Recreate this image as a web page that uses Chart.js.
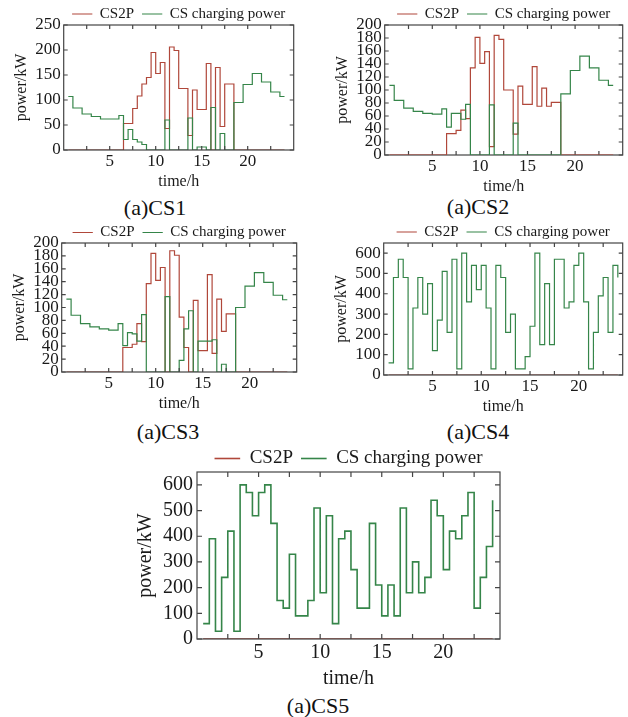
<!DOCTYPE html>
<html><head><meta charset="utf-8">
<script src="https://cdn.jsdelivr.net/npm/chart.js@4.4.0/dist/chart.umd.min.js"></script>
<style>
html,body{margin:0;padding:0;background:#fff;}
body{width:628px;height:717px;position:relative;overflow:hidden;font-family:"Liberation Serif","Times New Roman",serif;}
canvas{position:absolute;}
.cap{position:absolute;font-size:22px;color:#111;white-space:nowrap;transform:translate(-50%,-50%);line-height:1;}
</style></head><body>
<div class="cap" style="left:155px;top:208px">(a)CS1</div>
<div class="cap" style="left:478px;top:207px">(a)CS2</div>
<div class="cap" style="left:168px;top:432px">(a)CS3</div>
<div class="cap" style="left:478px;top:432px">(a)CS4</div>
<div class="cap" style="left:318px;top:706px">(a)CS5</div>
<script>
// ---------- data ----------
const hours = [0.5,1,1.5,2,2.5,3,3.5,4,4.5,5,5.5,6,6.5,7,7.5,8,8.5,9,9.5,10,10.5,11,11.5,12,12.5,13,13.5,14,14.5,15,15.5,16,16.5,17,17.5,18,18.5,19,19.5,20,20.5,21,21.5,22,22.5,23,23.5,24];
const seriesNames = ['CS2P','CS charging power'];
const xTickLabels = [5,10,15,20];
const xTickMarks = [2.5,5,7.5,10,12.5,15,17.5,20,22.5];
const yTicksCS1 = [0,50,100,150,200,250];
const yTicksCS23 = [0,20,40,60,80,100,120,140,160,180,200];
const yTicksCS45 = [0,100,200,300,400,500,600];

const cs1P = [0,0,0,0,0,0,0,0,0,0,0,0, 53,53,83,108,132,145,195,153,175,43,206,199, 123,123,29,120,81,81,173,0,165,47,132,132, 0,0,0,0,0,0,0,0,0,0,0,0];
const cs1Charge = [107,84,84,72,72,67,67,62,62,62,62,69, 21,41,21,16,11,0,0,0,0,60,0,0, 0,0,64,0,6,6,0,85,0,33,0,0, 95,95,131,131,153,153,136,136,116,116,107,107];

const cs2P = [0,0,0,0,0,0,0,0,0,0,0,0, 33,33,38,69,56,134,181,141,159,13,184,178, 100,100,32,106,78,78,136,75,103,75,81,81, 0,0,0,0,0,0,0,0,0,0,0,0];
const cs2Charge = [107,84,84,72,72,67,67,64,64,63,63,71, 43,64,64,55,78,0,0,0,0,77,0,0, 0,0,49,0,0,0,0,0,0,0,0,0, 94,94,130,130,152,152,134,134,115,115,107,107];

const cs3P = [0,0,0,0,0,0,0,0,0,0,0,0, 38,38,43,75,47,137,184,142,162,0,188,181, 85,38,0,111,33,33,151,29,113,63,90,90, 0,0,0,0,0,0,0,0,0,0,0,0];
const cs3Charge = [113,88,88,75,75,70,70,67,67,65,65,75, 41,61,59,48,89,0,0,0,0,117,0,0, 18,67,95,0,48,48,48,50,0,12,0,0, 100,100,133,133,154,154,139,139,119,119,112,112];

const cs4P = [0,0,0,0,0,0,0,0,0,0,0,0, 0,0,0,0,0,0,0,0,0,0,0,0, 0,0,0,0,0,0,0,0,0,0,0,0, 0,0,0,0,0,0,0,0,0,0,0,0];
const cs4Charge = [60,480,570,480,30,330,480,300,450,120,270,510, 210,570,30,600,360,540,420,540,330,30,540,480, 210,300,30,30,90,240,600,150,450,150,570,570, 330,360,540,600,360,30,210,390,480,210,540,480];

const cs5P = [0,0,0,0,0,0,0,0,0,0,0,0, 0,0,0,0,0,0,0,0,0,0,0,0, 0,0,0,0,0,0,0,0,0,0,0,0, 0,0,0,0,0,0,0,0,0,0,0,0];
const cs5Charge = [60,390,30,240,420,30,600,570,480,570,600,450, 150,120,330,90,90,150,510,180,480,60,390,420, 270,120,120,450,210,90,210,90,510,180,300,180, 240,540,480,270,420,390,480,570,120,240,360,540];

// ---------- style ----------
const FONT = '"Liberation Serif","Times New Roman",serif';
const RED = '#b0473a';
const GREEN = '#358549';
const AXIS = '#444';
const TXT = '#1a1a1a';

function drawFrame(chart, o) {
  const {ctx, chartArea: ca, scales} = chart;
  const x = scales.x, y = scales.y;
  ctx.save();
  ctx.strokeStyle = o.color; ctx.lineWidth = o.lw;
  ctx.strokeRect(ca.left, ca.top, ca.right - ca.left, ca.bottom - ca.top);
  ctx.beginPath();
  o.xMarks.forEach(v => {
    const px = x.getPixelForValue(v);
    ctx.moveTo(px, ca.bottom); ctx.lineTo(px, ca.bottom - o.tl);
    ctx.moveTo(px, ca.top); ctx.lineTo(px, ca.top + o.tl);
  });
  o.yMarks.forEach(v => {
    const py = y.getPixelForValue(v);
    ctx.moveTo(ca.left, py); ctx.lineTo(ca.left + o.tl, py);
    ctx.moveTo(ca.right, py); ctx.lineTo(ca.right - o.tl, py);
  });
  ctx.stroke();
  ctx.restore();
}

const framePlugin = {
  id: 'frame',
  afterLayout(chart, args, o) {
    const lg = chart.legend, ca = chart.chartArea;
    if (lg) {
      lg.left = ca.left; lg.right = ca.right; lg.width = ca.right - ca.left;
      lg.top = ca.top - o.legendGap - o.legendPad - o.legendFs / 2;
      lg.bottom = lg.top + lg.height;
    }
  },
  beforeDatasetsDraw(chart, args, o) { if (!o.onTop) drawFrame(chart, o); },
  afterDatasetsDraw(chart, args, o) { if (o.onTop) drawFrame(chart, o); }
};

function makeChart(c) {
  const pw = c.R - c.L, ph = c.B - c.T;
  const W = pw + 100, H = ph + 120;
  const canvas = document.createElement('canvas');
  canvas.width = W; canvas.height = H;
  canvas.style.width = W + 'px'; canvas.style.height = H + 'px';
  document.body.appendChild(canvas);
  const pts = vals => hours.map((h, i) => ({x: h, y: vals[i]}));
  const lf = {family: FONT, size: c.lfs};
  const tf = {family: FONT, size: c.tfs};
  const af = {family: FONT, size: c.afs};
  const chart = new Chart(canvas, {
    type: 'line',
    data: {datasets: [
      {label: seriesNames[0], data: pts(c.red), borderColor: RED, backgroundColor: RED, borderWidth: c.lw, pointRadius: 0, stepped: true, fill: false, order: 1},
      {label: seriesNames[1], data: pts(c.green), borderColor: GREEN, backgroundColor: GREEN, borderWidth: c.lw, pointRadius: 0, stepped: true, fill: false, order: 0}
    ]},
    options: {
      responsive: false, animation: false, devicePixelRatio: 1,
      layout: {padding: {left: 0, right: 0, top: 0, bottom: 0}},
      plugins: {
        legend: {display: true, position: 'top',
          labels: {usePointStyle: true, pointStyle: 'line', pointStyleWidth: c.lfs * 1.35, padding: 8, color: TXT, font: lf,
            sort: (a, b) => a.datasetIndex - b.datasetIndex}},
        tooltip: {enabled: false},
        frame: {onTop: c.onTop, color: AXIS, lw: 1.2, tl: c.tl, xMarks: xTickMarks, yMarks: c.yTicks,
          legendGap: c.legendGap, legendPad: 8, legendFs: c.lfs}
      },
      scales: {
        x: {type: 'linear', min: 0, max: c.xmax,
          grid: {display: false, drawTicks: false}, border: {display: false},
          ticks: {color: TXT, font: tf, padding: c.xpad, maxRotation: 0, autoSkip: false},
          afterBuildTicks: s => { s.ticks = xTickLabels.map(v => ({value: v})); },
          title: {display: true, text: 'time/h', color: TXT, font: af, padding: {top: 0, bottom: 0}}},
        y: {type: 'linear', min: 0, max: c.ymax,
          grid: {display: false, drawTicks: false}, border: {display: false},
          ticks: {color: TXT, font: tf, padding: c.ypad, autoSkip: false},
          afterBuildTicks: s => { s.ticks = c.yTicks.map(v => ({value: v})); },
          title: {display: true, text: 'power/kW', color: TXT, font: af, padding: {top: 0, bottom: 1}}}
      }
    },
    plugins: [framePlugin]
  });
  let ca = chart.chartArea;
  const dw = (ca.right - ca.left) - pw;
  const dh = (ca.bottom - ca.top) - ph;
  chart.options.layout.padding = {left: 0, top: 0, right: Math.max(0, dw), bottom: Math.max(0, dh)};
  chart.update();
  ca = chart.chartArea;
  canvas.style.left = (c.L - ca.left) + 'px';
  canvas.style.top = (c.T - ca.top) + 'px';
  return chart;
}

const small = {lfs: 15, tfs: 17, afs: 16, lw: 1.2, tl: 4, xpad: 1, ypad: 3};
makeChart(Object.assign({}, small, {L: 64, R: 294, T: 25, B: 150, xmax: 25, ymax: 250, yTicks: yTicksCS1, red: cs1P, green: cs1Charge, legendGap: 11, onTop: true}));
makeChart(Object.assign({}, small, {L: 385, R: 623, T: 25, B: 155, xmax: 25, ymax: 200, yTicks: yTicksCS23, red: cs2P, green: cs2Charge, legendGap: 11, onTop: false}));
makeChart(Object.assign({}, small, {L: 62, R: 297, T: 243, B: 372, xmax: 25, ymax: 200, yTicks: yTicksCS23, red: cs3P, green: cs3Charge, legendGap: 10.5, onTop: true}));
makeChart(Object.assign({}, small, {L: 384, R: 623, T: 243, B: 375, xmax: 24.5, ymax: 650, yTicks: yTicksCS45, red: cs4P, green: cs4Charge, legendGap: 11, onTop: true}));
makeChart({L: 197, R: 500, T: 472, B: 639, xmax: 24.6, ymax: 650, yTicks: yTicksCS45, red: cs5P, green: cs5Charge,
  lfs: 19, tfs: 20, afs: 20, lw: 1.6, tl: 5, legendGap: 13.5, xpad: 2, ypad: 4, onTop: true});
</script>
</body></html>
